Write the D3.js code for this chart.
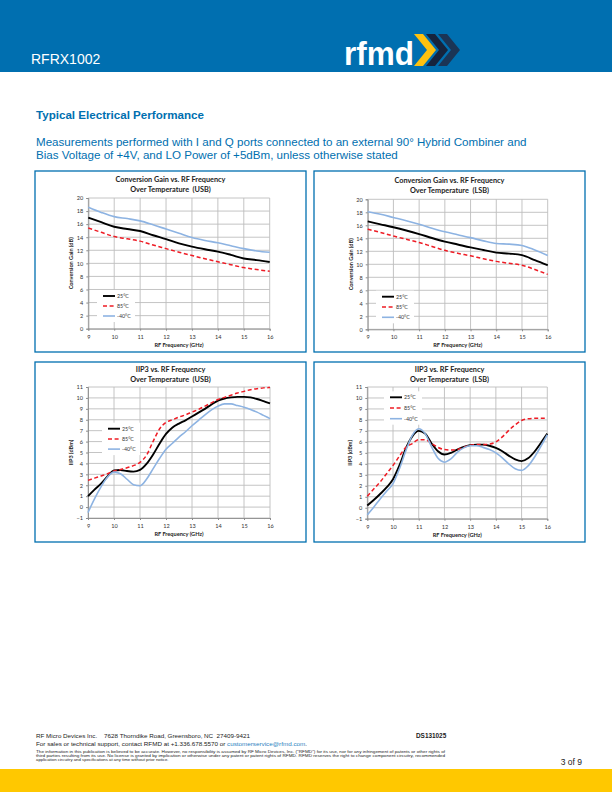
<!DOCTYPE html>
<html><head><meta charset="utf-8">
<script src="https://cdn.jsdelivr.net/npm/d3@7"></script>
<style>body{margin:0;background:#fff}svg{display:block}text{white-space:pre}</style>
</head><body>
<svg id="page" width="612" height="792"></svg>
<script>
// ---------- DATA ----------
const seriesNames = ["25°C", "85°C", "-40°C"];
const gainFreq = [9,9.5,10,10.5,11,11.5,12,12.5,13,13.5,14,14.5,15,15.5,16];
const gainUSB25 = [17.0,16.3,15.6,15.25,14.95,14.3,13.7,13.05,12.55,12.15,11.8,11.3,10.75,10.5,10.2];
const gainUSB85 = [15.4,14.75,14.1,13.75,13.4,12.8,12.25,11.7,11.2,10.7,10.25,9.8,9.35,9.05,8.8];
const gainUSBm40 = [18.6,17.8,17.15,16.85,16.5,15.9,15.25,14.6,13.95,13.5,13.15,12.7,12.25,11.9,11.7];
const gainLSB25 = [16.6,16.15,15.7,15.2,14.65,14.05,13.5,13.05,12.6,12.2,11.8,11.65,11.4,10.65,9.85];
const gainLSB85 = [15.4,14.9,14.35,13.85,13.35,12.75,12.15,11.7,11.3,10.85,10.45,10.15,9.85,9.2,8.45];
const gainLSBm40 = [18.1,17.7,17.2,16.7,16.15,15.55,15.0,14.55,14.1,13.6,13.2,13.1,12.9,12.2,11.35];
const ipFreq = [9,9.25,9.5,9.75,10,10.25,10.5,10.75,11,11.25,11.5,11.75,12,12.25,12.5,12.75,13,13.25,13.5,13.75,14,14.25,14.5,14.75,15,15.25,15.5,15.75,16];
const ipUSB25 = [1.0,1.6,2.15,2.8,3.35,3.4,3.3,3.25,3.4,3.95,4.8,5.8,6.7,7.3,7.65,7.95,8.3,8.65,9.0,9.4,9.75,9.95,10.05,10.1,10.1,10.05,9.9,9.7,9.5];
const ipUSB85 = [2.45,2.65,2.85,3.05,3.3,3.45,3.6,3.8,4.1,4.75,6.0,7.15,7.75,8.0,8.25,8.45,8.7,8.95,9.25,9.55,9.85,10.05,10.25,10.45,10.6,10.75,10.85,10.92,10.95];
const ipUSBm40 = [-0.5,0.75,1.85,2.75,3.2,3.05,2.55,2.05,1.95,2.55,3.5,4.45,5.3,5.85,6.4,6.9,7.45,7.95,8.45,8.9,9.25,9.45,9.45,9.3,9.15,8.95,8.7,8.4,8.1];
const ipLSB25 = [0.2,0.7,1.25,1.85,2.6,3.85,5.4,6.5,7.0,6.75,5.85,5.15,4.85,5.0,5.3,5.55,5.7,5.75,5.75,5.65,5.45,5.15,4.75,4.4,4.25,4.5,5.1,5.9,6.75];
const ipLSB85 = [1.05,1.7,2.35,3.1,3.85,4.7,5.5,5.85,6.2,6.2,5.85,5.5,5.3,5.25,5.3,5.5,5.7,5.75,5.75,5.8,6.0,6.45,7.05,7.55,7.95,8.1,8.15,8.15,8.15];
const ipLSBm40 = [-0.65,0.05,0.8,1.5,2.2,3.55,5.2,6.6,7.2,6.75,5.55,4.5,4.15,4.45,5.05,5.45,5.65,5.65,5.5,5.3,5.0,4.55,4.0,3.55,3.4,3.8,4.6,5.6,6.65];
const xTicks = [9,10,11,12,13,14,15,16];
const gainTicks = [0,2,4,6,8,10,12,14,16,18,20];
const ipTicks = [-1,0,1,2,3,4,5,6,7,8,9,10,11];

// ---------- PAGE ----------
const svg = d3.select("#page");
const BLUE = "#006fb0";
const ff = "Liberation Sans, Arial, sans-serif";
svg.append("rect").attr("x",0).attr("y",0).attr("width",612).attr("height",72).attr("fill",BLUE);
svg.append("text").attr("x",31).attr("y",64).attr("fill","#fff")
  .attr("font-family",ff).attr("font-size",14).text("RFRX1002");
svg.append("text").attr("x",344).attr("y",64.5).attr("fill","#fff")
  .attr("font-family",ff).attr("font-weight","bold")
  .attr("font-size",34).attr("textLength",70).attr("lengthAdjust","spacingAndGlyphs").text("rfmd");
function chevron(x0, col){
  const pts=[[x0,34],[x0+9,34],[x0+22,50],[x0+9,66],[x0,66],[x0+13,50]];
  svg.append("polygon").attr("points",pts.map(p=>p.join(",")).join(" ")).attr("fill",col);
}
chevron(438,"#1b3556");
chevron(426,"#16243d");
chevron(414,"#fec10e");

svg.append("text").attr("x",36).attr("y",119).attr("fill",BLUE)
  .attr("font-family",ff).attr("font-weight","bold").attr("font-size",11.6)
  .text("Typical Electrical Performance");
const para = ["Measurements performed with I and Q ports connected to an external 90° Hybrid Combiner and",
  "Bias Voltage of +4V, and LO Power of +5dBm, unless otherwise stated"];
para.forEach((t,i)=>svg.append("text").attr("x",36).attr("y",146+i*13).attr("fill",BLUE)
  .attr("font-family",ff).attr("font-size",11.6).text(t));

// footer
svg.append("text").attr("x",36).attr("y",737.6).attr("font-family",ff).attr("font-size",6.2).attr("fill","#222")
  .attr("textLength",214).attr("lengthAdjust","spacingAndGlyphs")
  .text("RF Micro Devices Inc.    7628 Thorndike Road, Greensboro, NC  27409-9421");
const f2 = svg.append("text").attr("x",36).attr("y",745.6).attr("font-family",ff).attr("font-size",6.2).attr("fill","#222")
  .attr("textLength",271).attr("lengthAdjust","spacingAndGlyphs");
f2.append("tspan").text("For sales or technical support, contact RFMD at +1.336.678.5570 or ");
f2.append("tspan").attr("fill","#2b7fc0").text("customerservice@rfmd.com");
f2.append("tspan").text(".");
svg.append("text").attr("x",416).attr("y",737.6).attr("font-family",ff).attr("font-weight","bold").attr("font-size",6.4).attr("fill","#222").text("DS131025");
const small = ["The information in this publication is believed to be accurate. However, no responsibility is assumed by RF Micro Devices, Inc. (\"RFMD\") for its use, nor for any infringement of patents or other rights of",
 "third parties resulting from its use. No license is granted by implication or otherwise under any patent or patent rights of RFMD. RFMD reserves the right to change component circuitry, recommended",
 "application circuitry and specifications at any time without prior notice."];
small.forEach((t,i)=>{
  const el = svg.append("text").attr("x",36).attr("y",752.8+i*4).attr("font-family",ff).attr("font-size",4.3).attr("fill","#222").text(t);
  if(i<2) el.attr("textLength",409).attr("lengthAdjust","spacingAndGlyphs");
});
svg.append("text").attr("x",582).attr("y",765).attr("text-anchor","end").attr("font-family",ff).attr("font-size",8.5).attr("fill","#222").text("3 of 9");
svg.append("rect").attr("x",0).attr("y",769).attr("width",612).attr("height",23).attr("fill","#ffc800");

// ---------- CHARTS ----------
const cf = "Lato, 'Open Sans', sans-serif";
const colors = ["#000000","#ee1c25","#8db3e2"];
const widths = [1.9,1.5,1.6];
const dashes = [null,"4,2.6",null];

function drawChart(c){
  svg.append("rect").attr("x",c.box[0]).attr("y",c.box[1]).attr("width",c.box[2]-c.box[0]).attr("height",c.box[3]-c.box[1])
    .attr("fill","#fff").attr("stroke",BLUE).attr("stroke-width",1.3);
  const g = svg.append("g");
  const x = d3.scaleLinear().domain([9,16]).range([c.plot[0],c.plot[1]]);
  const y = d3.scaleLinear().domain(c.yDomain).range([c.plot[3],c.plot[2]]);
  // grid
  g.selectAll(".hg").data(c.yTicks).enter().append("line")
    .attr("x1",c.plot[0]).attr("x2",c.plot[1]).attr("y1",d=>y(d)).attr("y2",d=>y(d))
    .attr("stroke","#bdbdbd").attr("stroke-width",0.9);
  g.selectAll(".vg").data(xTicks).enter().append("line")
    .attr("y1",c.plot[2]).attr("y2",c.plot[3]).attr("x1",d=>x(d)).attr("x2",d=>x(d))
    .attr("stroke","#bdbdbd").attr("stroke-width",0.9);
  // axes
  const ya = g.append("g").attr("transform",`translate(${c.plot[0]},0)`)
    .call(d3.axisLeft(y).tickValues(c.yTicks).tickFormat(d3.format("d")).tickSize(2).tickPadding(3));
  const xa = g.append("g").attr("transform",`translate(0,${c.plot[3]})`)
    .call(d3.axisBottom(x).tickValues(xTicks).tickFormat(d3.format("d")).tickSize(2).tickPadding(4));
  [ya,xa].forEach(a=>{
    a.select(".domain").attr("stroke","#8c8c8c").attr("stroke-width",0.9);
    a.selectAll(".tick line").attr("stroke","#8c8c8c");
    a.selectAll("text").attr("font-family",cf).attr("font-size",5.6).attr("fill","#333");
  });
  // titles
  const cx = (c.box[0]+c.box[2])/2;
  c.title.forEach((t,i)=>g.append("text").attr("x",cx).attr("y",c.titleY+i*10).attr("text-anchor","middle")
    .attr("font-family",cf).attr("font-weight","bold").attr("font-size",7.3).attr("fill","#222").text(t));
  g.append("text").attr("x",(c.plot[0]+c.plot[1])/2).attr("y",c.plot[3]+18).attr("text-anchor","middle")
    .attr("font-family",cf).attr("font-weight","bold").attr("font-size",5.6).attr("fill","#222").text("RF Frequency (GHz)");
  g.append("text").attr("transform",`translate(${c.plot[0]-15},${(c.plot[2]+c.plot[3])/2}) rotate(-90)`)
    .attr("text-anchor","middle").attr("font-family",cf).attr("font-weight","bold").attr("font-size",5.6).attr("fill","#222").text(c.yLabel);
  // legend
  const L = c.legend;
  g.append("rect").attr("x",L.x-6).attr("y",L.y-6).attr("width",38).attr("height",L.dy*2+12).attr("fill","#fff");
  // lines
  const line = d3.line().x((d,i)=>x(c.freq[i])).y(d=>y(d)).curve(d3.curveMonotoneX);
  c.series.forEach((s,k)=>{
    g.append("path").datum(s).attr("d",line).attr("fill","none").attr("stroke",colors[k])
      .attr("stroke-width",widths[k]).attr("stroke-dasharray",dashes[k]);
  });
  seriesNames.forEach((n,k)=>{
    const yy = L.y + k*L.dy;
    g.append("line").attr("x1",L.x).attr("x2",L.x+12).attr("y1",yy).attr("y2",yy)
      .attr("stroke",colors[k]).attr("stroke-width",widths[k]).attr("stroke-dasharray",dashes[k]);
    g.append("text").attr("x",L.x+14).attr("y",yy+1.8).attr("font-family",cf).attr("font-size",5.3).attr("fill","#333").text(n);
  });
}

drawChart({box:[35,171,306,352], plot:[88.3,269.7,198,328.7], yDomain:[0,20], yTicks:gainTicks,
  freq:gainFreq, series:[gainUSB25,gainUSB85,gainUSBm40], title:["Conversion Gain vs. RF Frequency","Over Temperature  (USB)"],
  titleY:181.5, yLabel:"Conversion Gain (dB)", legend:{x:103,y:296,dy:10}});
drawChart({box:[314,171,585,352], plot:[367.7,547.7,199.3,329.3], yDomain:[0,20], yTicks:gainTicks,
  freq:gainFreq, series:[gainLSB25,gainLSB85,gainLSBm40], title:["Conversion Gain vs. RF Frequency","Over Temperature  (LSB)"],
  titleY:182.5, yLabel:"Conversion Gain (dB)", legend:{x:382,y:296.7,dy:10.3}});
drawChart({box:[35,362,306,542], plot:[88,270,387,518], yDomain:[-1,11], yTicks:ipTicks,
  freq:ipFreq, series:[ipUSB25,ipUSB85,ipUSBm40], title:["IIP3 vs. RF Frequency","Over Temperature  (USB)"],
  titleY:371.5, yLabel:"IIP3 (dBm)", legend:{x:108,y:428.7,dy:10.2}});
drawChart({box:[314,362,585,542], plot:[367.3,547.3,387,518.7], yDomain:[-1,11], yTicks:ipTicks,
  freq:ipFreq, series:[ipLSB25,ipLSB85,ipLSBm40], title:["IIP3 vs. RF Frequency","Over Temperature  (LSB)"],
  titleY:371.5, yLabel:"IIP3 (dBm)", legend:{x:390,y:397.3,dy:10.7}});
</script>
</body></html>
